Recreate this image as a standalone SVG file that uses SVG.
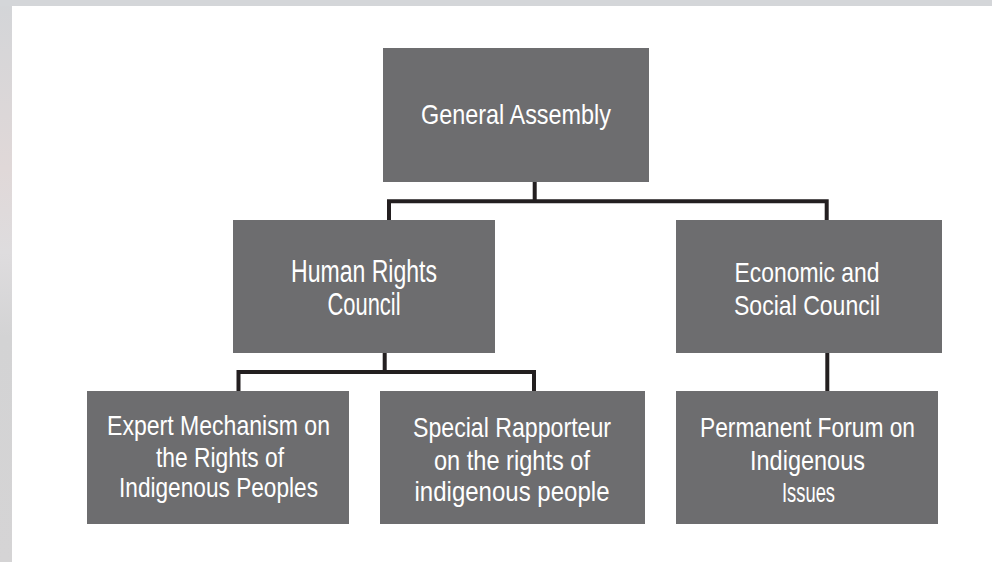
<svg xmlns="http://www.w3.org/2000/svg" width="992" height="562" viewBox="0 0 992 562">
  <defs>
    <linearGradient id="edge" x1="0" y1="0" x2="0" y2="1">
      <stop offset="0" stop-color="#d3d5d8"/>
      <stop offset="0.3" stop-color="#e0d8d8"/>
      <stop offset="0.45" stop-color="#dedcde"/>
      <stop offset="0.6" stop-color="#d3d3d4"/>
      <stop offset="1" stop-color="#d5d4d5"/>
    </linearGradient>
    <style>
      .box { fill: #6d6d6f; }
      .lbl { fill: #ffffff; font-family: "Liberation Sans", Arial, sans-serif; font-size: 28px; text-anchor: middle; }
      .wire { fill: none; stroke: #231f20; stroke-width: 4; stroke-linecap: butt; stroke-linejoin: miter; }
    </style>
  </defs>

  <!-- backdrop and white panel -->
  <rect x="0" y="0" width="992" height="562" fill="url(#edge)"/>
  <rect x="0" y="0" width="992" height="6" fill="#d4d6d9"/>
  <rect x="12" y="6" width="980" height="556" fill="#ffffff"/>

  <!-- connectors -->
  <g id="connectors">
    <path class="wire" d="M534.7 182 V201.3 M389 220 V201.3 H826.7 V220"/>
    <path class="wire" d="M384.7 352.7 V372 M238.5 391 V372 H534 V391"/>
    <path class="wire" d="M827.3 352.7 V391"/>
  </g>

  <g id="general-assembly">
    <rect class="box" x="383" y="48" width="266" height="134"/>
    <text class="lbl" x="516" y="124" textLength="190" lengthAdjust="spacingAndGlyphs">General Assembly</text>
  </g>

  <g id="human-rights-council">
    <rect class="box" x="233" y="220" width="262" height="133"/>
    <text class="lbl" x="364" y="282" font-size="31" textLength="146" lengthAdjust="spacingAndGlyphs" style="font-size:31px">Human Rights</text>
    <text class="lbl" x="364" y="315" style="font-size:31px" textLength="73" lengthAdjust="spacingAndGlyphs">Council</text>
  </g>

  <g id="ecosoc">
    <rect class="box" x="676" y="220" width="266" height="133"/>
    <text class="lbl" x="807" y="282" textLength="145" lengthAdjust="spacingAndGlyphs">Economic and</text>
    <text class="lbl" x="807" y="315" textLength="146" lengthAdjust="spacingAndGlyphs">Social Council</text>
  </g>

  <g id="expert-mechanism">
    <rect class="box" x="87" y="391" width="262" height="133"/>
    <text class="lbl" x="218.5" y="435" textLength="223" lengthAdjust="spacingAndGlyphs">Expert Mechanism on</text>
    <text class="lbl" x="220" y="467" textLength="128" lengthAdjust="spacingAndGlyphs">the Rights of</text>
    <text class="lbl" x="218.5" y="497" textLength="199" lengthAdjust="spacingAndGlyphs">Indigenous Peoples</text>
  </g>

  <g id="special-rapporteur">
    <rect class="box" x="380" y="391" width="265" height="133"/>
    <text class="lbl" x="512" y="437" textLength="198" lengthAdjust="spacingAndGlyphs">Special Rapporteur</text>
    <text class="lbl" x="512" y="470" textLength="156" lengthAdjust="spacingAndGlyphs">on the rights of</text>
    <text class="lbl" x="512" y="501" textLength="195" lengthAdjust="spacingAndGlyphs">indigenous people</text>
  </g>

  <g id="permanent-forum">
    <rect class="box" x="676" y="391" width="262" height="133"/>
    <text class="lbl" x="807.5" y="437" textLength="215" lengthAdjust="spacingAndGlyphs">Permanent Forum on</text>
    <text class="lbl" x="807.5" y="470" textLength="115" lengthAdjust="spacingAndGlyphs">Indigenous</text>
    <text class="lbl" x="808.5" y="502" textLength="53" lengthAdjust="spacingAndGlyphs">Issues</text>
  </g>
</svg>
